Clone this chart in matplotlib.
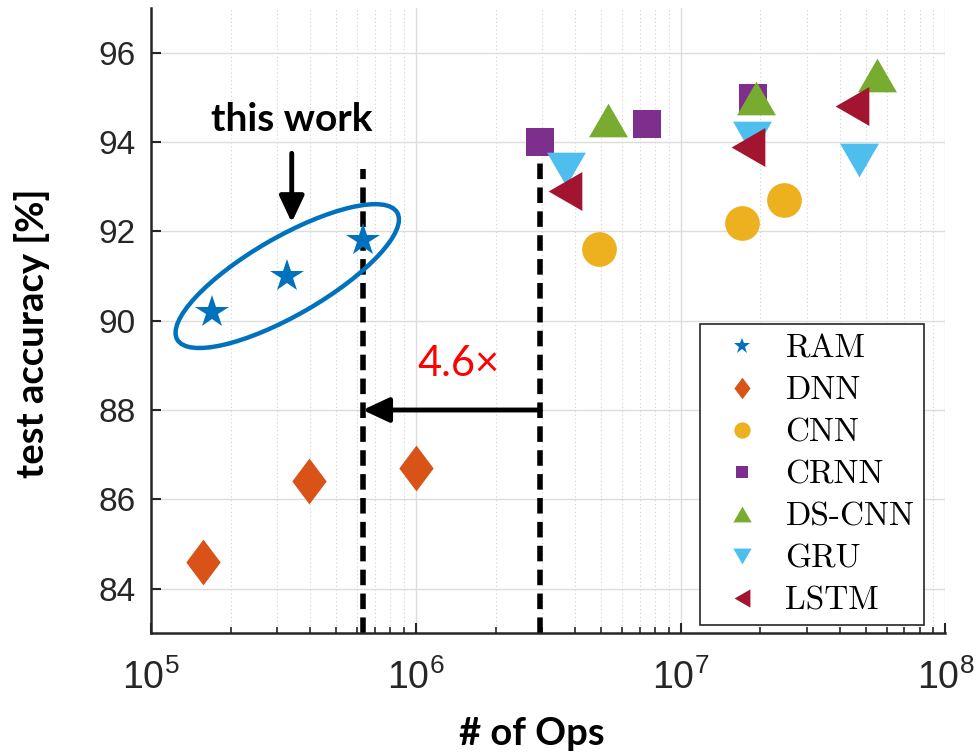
import numpy as np
import matplotlib
matplotlib.use("Agg")
import matplotlib.pyplot as plt
from matplotlib.patches import Ellipse
from matplotlib.transforms import ScaledTranslation
from matplotlib.path import Path

# data (ops, accuracy %)
ram_ops = [1.7e5, 3.25e5, 6.3e5]
ram_acc = [90.2, 91.0, 91.8]
dnn_ops = [1.57e5, 3.95e5, 1.0e6]
dnn_acc = [84.6, 86.4, 86.7]
cnn_ops = [4.9e6, 1.7e7, 2.46e7]
cnn_acc = [91.6, 92.2, 92.7]
crnn_ops = [2.95e6, 7.45e6, 1.88e7]
crnn_acc = [94.0, 94.4, 95.0]
dscnn_ops = [5.3e6, 1.93e7, 5.5e7]
dscnn_acc = [94.5, 95.0, 95.5]
gru_ops = [3.7e6, 1.86e7, 4.7e7]
gru_acc = [93.4, 94.1, 93.6]
lstm_ops = [3.66e6, 1.79e7, 4.45e7]
lstm_acc = [92.9, 93.9, 94.8]

ours_best = 6.3e5     # vertical line for this work
prior_best = 2.95e6   # vertical line for smallest prior model
arrow_y = 88.0

plt.rcParams['font.family'] = 'Liberation Sans'

fig = plt.figure(figsize=(9.76, 7.52), dpi=100)
ax = fig.add_axes([0.1547, 0.158, 0.814, 0.831])

def poly(pts):
    pts = pts + [pts[0]]
    codes = [Path.MOVETO] + [Path.LINETO] * (len(pts) - 2) + [Path.CLOSEPOLY]
    return Path(pts, codes)

diamond = poly([(0, 1), (0.75, 0), (0, -1), (-0.75, 0)])
tri_up = poly([(0, 0.866), (-1, -0.866), (1, -0.866)])
tri_down = poly([(0, -0.866), (-1, 0.866), (1, 0.866)])
tri_left = poly([(-0.866, 0), (0.866, 1), (0.866, -1)])

series = [
    ("RAM", ram_ops, ram_acc, '*', 25, '#0072BD'),
    ("DNN", dnn_ops, dnn_acc, diamond, 33, '#D95319'),
    ("CNN", cnn_ops, cnn_acc, 'o', 25, '#EDB120'),
    ("CRNN", crnn_ops, crnn_acc, 's', 19.5, '#7E2F8E'),
    ("DS-CNN", dscnn_ops, dscnn_acc, tri_up, 28, '#77AC30'),
    ("GRU", gru_ops, gru_acc, tri_down, 28, '#4DBEEE'),
    ("LSTM", lstm_ops, lstm_acc, tri_left, 28, '#A2142F'),
]

arrow_kw = dict(arrowstyle='-|>,head_length=1.6,head_width=0.75',
                color='k', lw=3.5, shrinkA=0, shrinkB=0)

# dashed guide lines and arrow
ax.plot([ours_best, ours_best], [83, 93.4], color='k', lw=4, dashes=(2.8, 1.5), zorder=2)
ax.plot([prior_best, prior_best], [83, 94.05], color='k', lw=4, dashes=(2.8, 1.5), zorder=2)
ax.annotate('', xy=(ours_best, arrow_y), xytext=(prior_best, arrow_y),
            arrowprops=arrow_kw, zorder=2)
ax.text(1.45e6, 89.04, '4.6×', color='red', fontsize=30,
        family='Lato', ha='center', va='center')

handles = []
for name, xs, ys, mk, ms, col in series:
    h, = ax.plot(xs, ys, linestyle='none', marker=mk, markersize=ms,
                 color=col, markeredgewidth=0, label=name, zorder=4)
    handles.append(h)

# ellipse around this work
tr = fig.dpi_scale_trans + ScaledTranslation(3.27e5, 91.0, ax.transData)
ax.add_patch(Ellipse((0, 0), 2.54, 0.78, angle=30, fill=False,
                     edgecolor='#0072BD', lw=3.2, transform=tr, zorder=3))

ax.text(3.4e5, 94.5, 'this work', fontsize=28, fontweight='bold',
        family='Lato', ha='center', va='center')
ax.annotate('', xy=(3.4e5, 92.2), xytext=(3.4e5, 93.75), arrowprops=arrow_kw)

ax.set_xscale('log')
ax.set_xlim(1e5, 1e8)
ax.set_ylim(83, 97)
ax.set_yticks([84, 86, 88, 90, 92, 94, 96])
ax.grid(True, which='major', color='#dcdcdc', lw=1)
ax.grid(True, which='minor', axis='x', color='#d0d0d0', lw=0.8, linestyle=(0, (1, 2.5)))
ax.set_axisbelow(True)
ax.tick_params(which='both', direction='in', colors='#262626')
ax.tick_params(axis='y', pad=11, labelsize=24)
ax.tick_params(axis='x', pad=19, labelsize=27)
ax.tick_params(which='major', length=7, width=1.5)
ax.tick_params(which='minor', length=4, width=1.2)
for s in ['top', 'right']:
    ax.spines[s].set_visible(False)
for s in ['left', 'bottom']:
    ax.spines[s].set_linewidth(1.8)
    ax.spines[s].set_color('#262626')

ax.set_xlabel('# of Ops', fontsize=27.5, fontweight='bold', family='Lato')
ax.set_ylabel('test accuracy [%]', fontsize=27.5, fontweight='bold', family='Lato')
ax.xaxis.set_label_coords(0.479, -0.134)
ax.yaxis.set_label_coords(-0.127, 0.48)

leg = ax.legend(handles=handles, loc='lower right', bbox_to_anchor=(0.9736, 0.0128),
                borderaxespad=0, prop={'family': 'cmr10', 'size': 24},
                markerscale=0.47, labelspacing=0.38, handletextpad=0.33,
                handlelength=1.94, borderpad=0.3, fancybox=False, framealpha=1,
                edgecolor='#262626')
leg.get_frame().set_linewidth(1.2)

fig.savefig('out.png', dpi=100)
